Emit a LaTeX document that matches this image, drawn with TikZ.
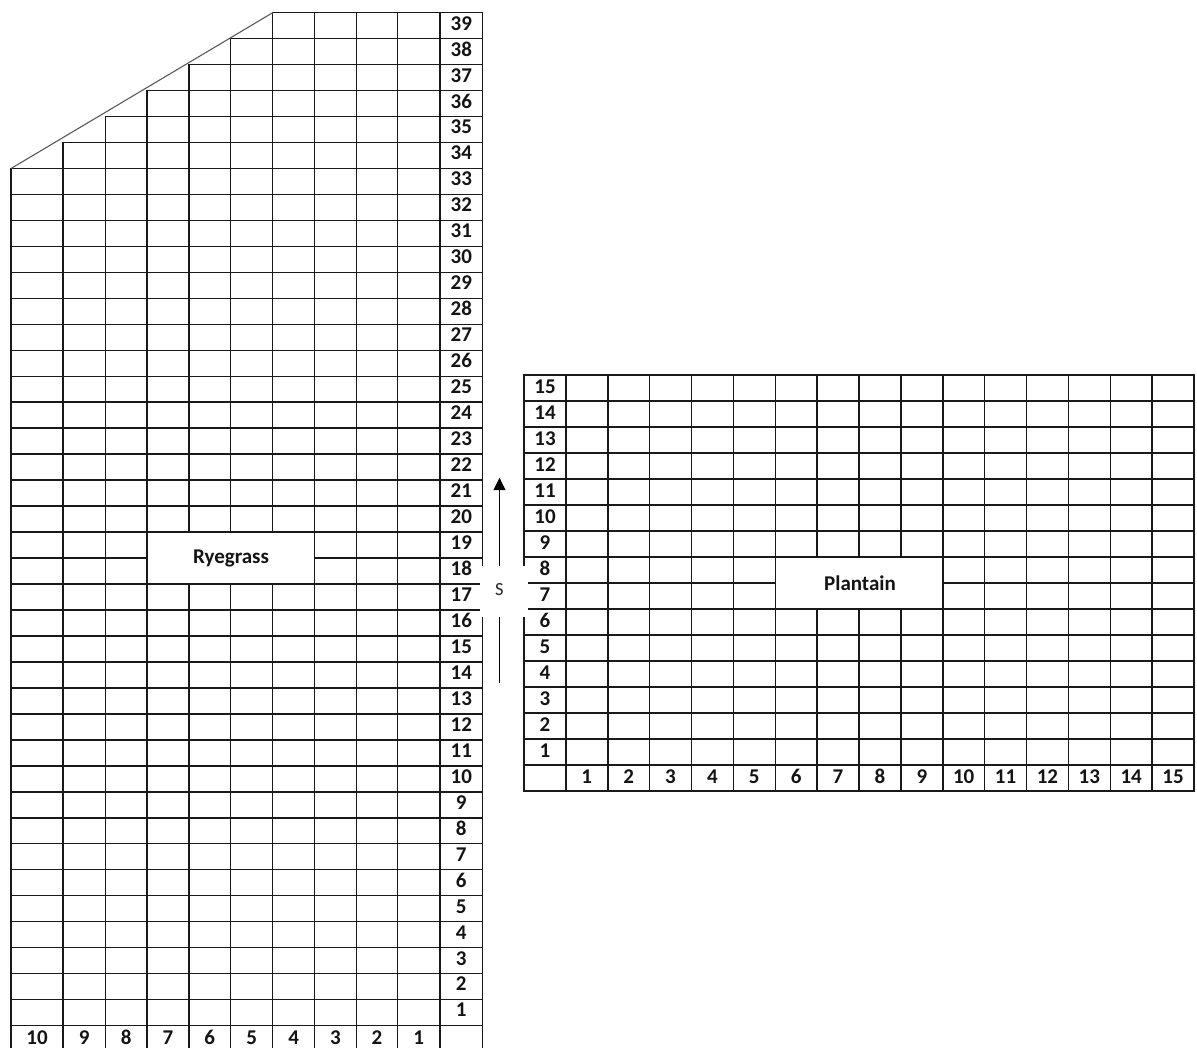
\documentclass[tikz,border=0pt]{standalone}
\usepackage{fontspec}
\setmainfont{Carlito}
\usetikzlibrary{arrows.meta}
\begin{document}
\begin{tikzpicture}[x=1pt,y=-1pt,
  gridline/.style={line width=1.5pt, draw=black!90, line cap=rect},
  diagline/.style={line width=1.1pt, draw=black!65},
  lbl/.style={font=\fontsize{21}{23}\selectfont\bfseries, inner sep=0pt, anchor=base, text=black!92},
  blank/.style={draw=black!90, line width=1.5pt, fill=white, inner sep=0pt},
  arrowline/.style={line width=1.5pt, draw=black, -{Triangle[width=12pt,length=12.5pt]}}]
\useasboundingbox (0,0) rectangle (1197,1048);
\def\Lx{{11,63,105.5,147,189,230.5,272.7,314.5,356.3,397.5,440,482.5}}
% ---- left grid (Ryegrass) ----
\foreach \k in {0,...,40} {
  \pgfmathtruncatemacro\s{max(0,6-\k)}
  \pgfmathsetmacro\xs{\Lx[\s]}
  \draw[gridline] ({\xs},{12.7+\k*25.97}) -- (482.5,{12.7+\k*25.97});
}
\foreach \j in {0,...,11} {
  \pgfmathtruncatemacro\t{max(0,6-\j)}
  \pgfmathsetmacro\xx{\Lx[\j]}
  \draw[gridline] ({\xx},{12.7+\t*25.97}) -- ({\xx},1052);
}
\draw[diagline] (11,{12.7+6*25.97}) -- (272.7,12.7);
\foreach \r in {1,...,39} {
  \node[lbl] (lrow\r) at (461.25,{12.7+(39-\r)*25.97+17.4}) {\r};
}
\foreach \i in {0,...,9} {
  \pgfmathsetmacro\xa{\Lx[\i]}
  \pgfmathtruncatemacro\ip{\i+1}
  \pgfmathsetmacro\xb{\Lx[\ip]}
  \pgfmathtruncatemacro\lab{10-\i}
  \node[lbl] (lcol\lab) at ({(\xa+\xb)/2},1044.5) {\lab};
}
\node[blank, minimum width=167.5pt, minimum height=51.9pt] (ryebox) at (230.75,{12.7+21*25.97}) {};
\node[lbl] (rye) at (231,563.3) {Ryegrass};
% ---- right grid (Plantain) ----
\foreach \k in {0,...,16} {
  \draw[gridline] (524,{375+\k*26}) -- (1194,{375+\k*26});
}
\foreach \j in {0,...,16} {
  \draw[gridline] ({524+\j*41.875},375) -- ({524+\j*41.875},791);
}
\foreach \r in {1,...,15} {
  \node[lbl] (rrow\r) at (545,{375+(15-\r)*26+18.3}) {\r};
}
\foreach \j in {1,...,15} {
  \node[lbl] (rcol\j) at ({524+41.875*(\j+0.5)},783.3) {\j};
}
\node[blank, minimum width=167.5pt, minimum height=52pt] (plbox) at (859,583) {};
\node[lbl] (plan) at (860,590) {Plantain};
% ---- arrow with S ----
\coordinate (atail) at (499.5,683);
\coordinate (ahead) at (499.5,477.7);
\draw[arrowline] (atail) -- (ahead);
\fill[white] (479.5,566) rectangle (527.5,617);
\node[font=\fontsize{18.5}{20}\selectfont, inner sep=0pt, anchor=base, text=black!85] (s) at (499.3,595.9) {S};
\end{tikzpicture}
\end{document}
